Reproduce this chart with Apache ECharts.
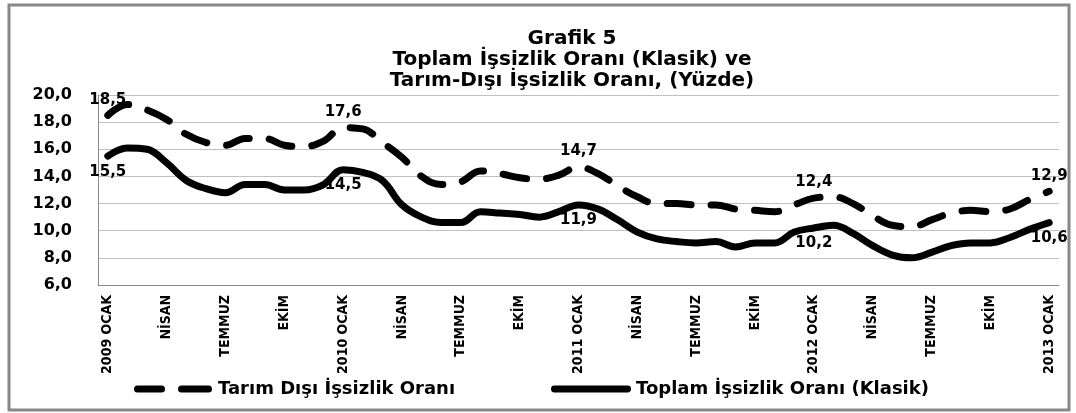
<!DOCTYPE html>
<html>
<head>
<meta charset="utf-8">
<script src="https://cdn.jsdelivr.net/npm/echarts@6/dist/echarts.min.js"></script>
<style>
html,body{margin:0;padding:0;background:#fff;}
#chart{width:1076px;height:413px;}
</style>
</head>
<body>
<div id="chart"></div>
<script>
// ---- data ----
var years = [2009, 2010, 2011, 2012, 2013];
var monthNames = ['OCAK','ŞUBAT','MART','NİSAN','MAYIS','HAZİRAN','TEMMUZ','AĞUSTOS','EYLÜL','EKİM','KASIM','ARALIK'];
var categories = [];
for (var y = 0; y < years.length; y++) {
  for (var m = 0; m < 12; m++) {
    if (years[y] === 2013 && m > 0) break;
    categories.push(m === 0 ? years[y] + ' OCAK' : monthNames[m]);
  }
}
var tarimDisi = [
  18.5, 19.3, 18.9, 18.2, 17.1, 16.5, 16.3, 16.8, 16.8, 16.3, 16.2, 16.6,
  17.6, 17.5, 16.5, 15.4, 14.0, 13.4, 13.6, 14.4, 14.2, 13.9, 13.8, 14.1,
  14.7, 14.2, 13.3, 12.5, 12.0, 12.0, 11.9, 11.9, 11.6, 11.5, 11.4, 11.9,
  12.4, 12.5, 12.0, 11.1, 10.4, 10.3, 10.8, 11.3, 11.5, 11.4, 11.6, 12.3,
  12.9
];
var toplam = [
  15.5, 16.1, 16.0, 15.0, 13.7, 13.1, 12.8, 13.4, 13.4, 13.0, 13.0, 13.4,
  14.5, 14.3, 13.7, 11.9, 11.0, 10.6, 10.6, 11.4, 11.3, 11.2, 11.0, 11.4,
  11.9, 11.6, 10.8, 9.9, 9.4, 9.2, 9.1, 9.2, 8.8, 9.1, 9.1, 9.9,
  10.2, 10.4, 9.8, 8.9, 8.2, 8.0, 8.4, 8.9, 9.1, 9.1, 9.5, 10.1,
  10.6
];
var labelledIdx = [0, 12, 24, 36, 48];

function fmt(v) { return v.toFixed(1).replace('.', ','); }
function withLabels(arr) {
  return arr.map(function (v, i) {
    return labelledIdx.indexOf(i) >= 0 ? { value: v, label: { show: true } } : v;
  });
}

var chart = echarts.init(document.getElementById('chart'));
var labelFont = { fontFamily: 'DejaVu Sans', fontWeight: 'bold', fontSize: 15, color: '#000' };
var legendText = { fontFamily: 'DejaVu Sans', fontWeight: 'bold', fontSize: 18, color: '#000' };

chart.setOption({
  animation: false,
  backgroundColor: '#fff',
  title: {
    text: 'Grafik 5\nToplam İşsizlik Oranı (Klasik) ve\nTarım-Dışı İşsizlik Oranı, (Yüzde)',
    left: 567, top: 23, textAlign: 'center',
    textStyle: { fontFamily: 'DejaVu Sans', fontWeight: 'bold', fontSize: 20, lineHeight: 21, color: '#000' }
  },
  graphic: [{
    type: 'rect', shape: { x: 9, y: 5, width: 1060, height: 405 },
    style: { fill: 'none', stroke: '#888', lineWidth: 3 }, silent: true
  }],
  legend: [{
    data: [{ name: 'Tarım Dışı İşsizlik Oranı',
      icon: 'path://M3,0 h24 a3,3 0 0 1 0,7 h-24 a3,3 0 0 1 0,-7 z M47,0 h27 a3,3 0 0 1 0,7 h-27 a3,3 0 0 1 0,-7 z' }],
    left: 129, top: 375, itemWidth: 80, itemHeight: 7, itemGap: 3,
    textStyle: legendText
  }, {
    data: [{ name: 'Toplam İşsizlik Oranı (Klasik)',
      icon: 'path://M3,0 h74 a3,3 0 0 1 0,7 h-74 a3,3 0 0 1 0,-7 z' }],
    left: 546, top: 375, itemWidth: 80, itemHeight: 7, itemGap: 3,
    textStyle: legendText
  }],
  grid: { left: 98, right: 17, top: 95, bottom: 128 },
  xAxis: {
    type: 'category', data: categories, boundaryGap: true,
    axisLine: { lineStyle: { color: '#888', width: 1 } },
    axisTick: { show: false },
    axisLabel: {
      interval: 2, rotate: 90, margin: 10, color: '#000',
      fontFamily: 'Liberation Sans Narrow, DejaVu Sans Condensed', fontWeight: 'bold', fontSize: 14
    }
  },
  yAxis: {
    type: 'value', min: 6, max: 20, interval: 2,
    axisLine: { show: true, lineStyle: { color: '#888', width: 1 } },
    axisTick: { show: false },
    splitLine: { lineStyle: { color: '#c0c0c0', width: 1 } },
    axisLabel: {
      margin: 26, color: '#000', fontFamily: 'DejaVu Sans', fontWeight: 'bold', fontSize: 16,
      formatter: function (v) { return fmt(v); }
    }
  },
  series: [{
    name: 'Tarım Dışı İşsizlik Oranı', type: 'line', smooth: 0.4,
    data: withLabels(tarimDisi),
    symbol: 'circle', symbolSize: 0.1, showSymbol: true,
    itemStyle: { color: '#000' },
    lineStyle: { color: '#000', width: 7, type: [24, 20], cap: 'round' },
    label: Object.assign({ show: false, position: 'top', distance: 8,
      formatter: function (p) { return fmt(p.value); } }, labelFont)
  }, {
    name: 'Toplam İşsizlik Oranı (Klasik)', type: 'line', smooth: 0.4,
    data: withLabels(toplam),
    symbol: 'circle', symbolSize: 0.1, showSymbol: true,
    itemStyle: { color: '#000' },
    lineStyle: { color: '#000', width: 7, type: 'solid', cap: 'round' },
    label: Object.assign({ show: false, position: 'bottom', distance: 8,
      formatter: function (p) { return fmt(p.value); } }, labelFont)
  }]
});
</script>
</body>
</html>
